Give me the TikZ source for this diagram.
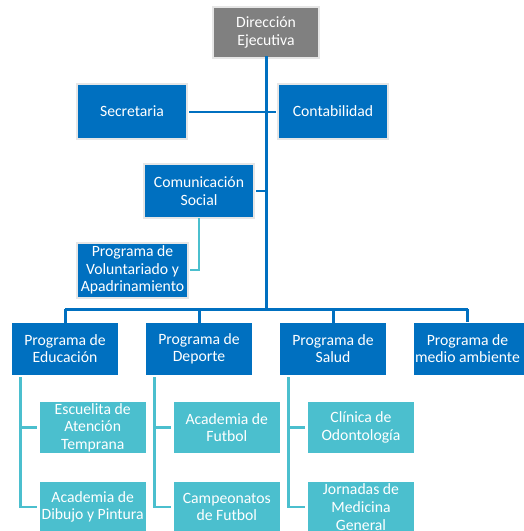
\documentclass[tikz,border=0pt]{standalone}
\usepackage{fontspec}
\setmainfont{Carlito}
\definecolor{mainblue}{HTML}{0070C0}
\definecolor{subcyan}{HTML}{4BBFCE}
\definecolor{topgray}{HTML}{808080}
\definecolor{rimgray}{HTML}{E6E6E6}
\tikzset{
  box/.style={rectangle, text=white, align=center, inner sep=0pt,
    font=\fontsize{15.7}{17.7}\selectfont},
  bluebox/.style={box, fill=mainblue, draw=rimgray, line width=2pt},
  progbox/.style={box, fill=mainblue, draw=white, line width=1pt, minimum width=107pt, minimum height=53pt},
  subbox/.style={box, fill=subcyan, draw=white, line width=1pt, minimum width=107pt, minimum height=52pt},
  topbox/.style={box, fill=topgray, draw=rimgray, line width=2pt},
  thick link/.style={draw=mainblue, line width=3pt},
  thin link/.style={draw=mainblue, line width=2pt},
  cyan link/.style={draw=subcyan, line width=2.5pt},
}
\begin{document}
\begin{tikzpicture}[x=1pt, y=-1pt]
\useasboundingbox (0,0) rectangle (524,531);
\begin{scope}
\clip (0,0) rectangle (524,531);
\node[topbox, minimum width=106pt, minimum height=51pt] (dir) at (266,32.5) {Dirección\\Ejecutiva};
\node[bluebox, minimum width=110pt, minimum height=55pt] (sec) at (132,111.5) {Secretaria};
\node[bluebox, minimum width=110pt, minimum height=55pt] (con) at (333,111.5) {Contabilidad};
\node[bluebox, minimum width=110pt, minimum height=54pt] (com) at (199,191) {Comunicación\\Social};
\node[bluebox, minimum width=111pt, minimum height=55pt] (vol) at (132.5,270) {Programa de\\Voluntariado y\\Apadrinamiento};

\node[progbox] (edu) at (65,348.7) {Programa de\\Educación};
\node[progbox] (dep) at (199,348.7) {Programa de\\Deporte};
\node[progbox] (sal) at (333,348.7) {Programa de\\Salud};
\node[progbox, minimum width=113pt] (med) at (470,348.7) {\hspace*{-5pt}Programa de\\\hspace*{-5pt}medio ambiente};

\node[subbox] (esc) at (92.7,427.7) {Escuelita de\\Atención\\Temprana};
\node[subbox] (dib) at (92.7,507) {Academia de\\Dibujo y Pintura};
\node[subbox] (fut) at (226.8,427.7) {Academia de\\Futbol};
\node[subbox] (cam) at (226.8,507) {Campeonatos\\de Futbol};
\node[subbox] (odo) at (361,427.7) {Clínica de\\Odontología};
\node[subbox] (jor) at (361,507) {Jornadas de\\Medicina\\General};

\coordinate (bus) at (266,309);
\coordinate (cjoin) at (266,191);
\coordinate (medtop) at (467.5,322);
\draw[thick link] ([yshift=3pt]dir.south) -- (bus);
\draw[thin link] ([xshift=1pt]sec.east) -- ([xshift=-1pt]con.west);
\draw[thin link] ([xshift=1pt]com.east) -- (cjoin);
\draw[thick link] (edu.north |- bus) -- (medtop |- bus);
\foreach \p in {edu,dep,sal} \draw[thick link] (\p.north |- bus) -- ([yshift=-1pt]\p.north);
\draw[thick link] (medtop |- bus) -- (medtop);
\draw[cyan link] ([yshift=1pt]com.south) |- ([xshift=1pt]vol.east);

\draw[cyan link] (20.7,377) |- ([xshift=-2pt]esc.west);
\draw[cyan link] (20.7,420) |- ([xshift=-2pt]dib.west);
\draw[cyan link] (154.7,377) |- ([xshift=-2pt]fut.west);
\draw[cyan link] (154.7,420) |- ([xshift=-2pt]cam.west);
\draw[cyan link] (288.7,377) |- ([xshift=-2pt]odo.west);
\draw[cyan link] (288.7,420) |- ([xshift=-2pt]jor.west);
\end{scope}
\end{tikzpicture}
\end{document}
